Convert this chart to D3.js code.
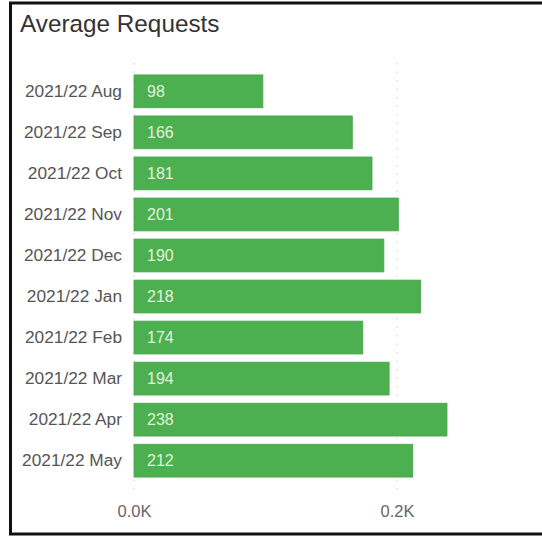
<!DOCTYPE html>
<html><head><meta charset="utf-8">
<script src="https://cdn.jsdelivr.net/npm/d3@7"></script>
<style>body{margin:0;background:#fff;}svg{display:block;font-family:"Liberation Sans",Arial,sans-serif;}</style>
</head><body>
<script>
const categories = ["2021/22 Aug","2021/22 Sep","2021/22 Oct","2021/22 Nov","2021/22 Dec","2021/22 Jan","2021/22 Feb","2021/22 Mar","2021/22 Apr","2021/22 May"];
const values = [98,166,181,201,190,218,174,194,238,212];
const tickValues = [0,200];
const tickLabels = ["0.0K","0.2K"];

const W=542,H=536;
const svg=d3.select("body").append("svg").attr("width",W).attr("height",H);
svg.append("rect").attr("x",0).attr("y",0).attr("width",W).attr("height",H).attr("fill","#fff");
// frame
svg.append("rect").attr("x",10.5).attr("y",3).attr("width",W+10).attr("height",531)
  .attr("fill","none").attr("stroke","#111").attr("stroke-width",3);
svg.append("text").attr("x",20).attr("y",32).attr("font-size",24.3).attr("fill","#333").text("Average Requests");

const x=d3.scaleLinear().domain([0,200]).range([134,397]);
const y=d3.scaleBand().domain(categories).range([70,482]).paddingInner(0.2).paddingOuter(0.12);

// gridlines
svg.append("g").selectAll("line").data(tickValues).join("line")
  .attr("x1",d=>x(d)).attr("x2",d=>x(d)).attr("y1",63).attr("y2",496)
  .attr("stroke","#d6d6d6").attr("stroke-width",1.2).attr("stroke-dasharray","1.5,7");

svg.append("g").selectAll("rect").data(values).join("rect")
  .attr("x",x(0)).attr("y",(d,i)=>y(categories[i])).attr("width",d=>x(d)-x(0)).attr("height",y.bandwidth())
  .attr("fill","#4caf50").attr("stroke","#47a44b").attr("stroke-width",0.8);

svg.append("g").selectAll("text").data(values).join("text")
  .attr("x",x(0)+13).attr("y",(d,i)=>y(categories[i])+y.bandwidth()/2).attr("dy","0.36em")
  .attr("font-size",16).attr("fill","#e2f3dc").text(d=>d);

const yAxis=d3.axisLeft(y).tickSize(0).tickPadding(12);
const gy=svg.append("g").attr("transform",`translate(${x(0)},0)`).call(yAxis);
gy.select(".domain").remove();
gy.selectAll("text").attr("font-size",17.3).attr("fill","#555").attr("font-family","Liberation Sans, Arial, sans-serif");

const xAxis=d3.axisBottom(x).tickValues(tickValues).tickSize(0).tickFormat((d,i)=>tickLabels[i]);
const gx=svg.append("g").attr("transform","translate(0,497)").call(xAxis);
gx.select(".domain").remove();
gx.selectAll("text").attr("font-size",16.5).attr("fill","#666").attr("dy","0.71em").attr("y",8).attr("font-family","Liberation Sans, Arial, sans-serif");
</script>
</body></html>
